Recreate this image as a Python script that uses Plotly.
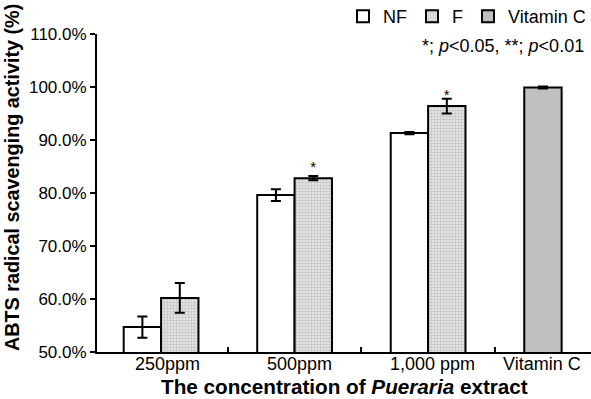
import plotly.graph_objects as go

categories = ["250ppm", "500ppm", "1,000 ppm", "Vitamin C"]
nf_values = [0.547, 0.796, 0.913]
nf_errors = [0.020, 0.011, 0.002]
f_values = [0.602, 0.828, 0.964]
f_errors = [0.028, 0.004, 0.014]
f_significance = ["", "*", "*"]
vc_values = [0.999]
vc_errors = [0.002]
y_ticks = [0.5, 0.6, 0.7, 0.8, 0.9, 1.0, 1.1]

FONT = "Liberation Sans, Arial, sans-serif"
BW = 0.28

fig = go.Figure()
fig.add_trace(go.Bar(
    name="NF", x=categories[:3], y=nf_values,
    offset=-BW, width=BW,
    marker=dict(color="white", line=dict(color="black", width=2)),
    error_y=dict(type="data", array=nf_errors, color="black", thickness=2, width=5),
))
fig.add_trace(go.Bar(
    name="F", x=categories[:3], y=f_values,
    offset=0, width=BW,
    text=f_significance, textposition="outside",
    textfont=dict(family=FONT, size=15, color="black"),
    cliponaxis=False,
    marker=dict(color="white", line=dict(color="black", width=2),
                pattern=dict(shape=".", size=3, solidity=0.5,
                             fgcolor="#9a9a9a", bgcolor="#ececec")),
    error_y=dict(type="data", array=f_errors, color="black", thickness=2, width=5),
))
fig.add_trace(go.Bar(
    name="Vitamin C", x=categories[3:], y=vc_values,
    offset=-BW, width=BW,
    marker=dict(color="#c0c0c0", line=dict(color="black", width=2)),
    error_y=dict(type="data", array=vc_errors, color="black", thickness=2, width=5),
))

label_shift = [6, 5, 4, -20]
annotations = []
for i, lab in enumerate(categories):
    annotations.append(dict(x=i, y=0, xref="x", yref="paper", yanchor="top",
                            xshift=label_shift[i], yshift=0, text=lab, showarrow=False,
                            font=dict(family=FONT, size=18, color="black")))
annotations.append(dict(x=0.5, y=-0.107, xref="paper", yref="paper", yanchor="middle",
                        text="<b>The concentration of <i>Pueraria</i> extract</b>",
                        showarrow=False, font=dict(family=FONT, size=20.7, color="black")))
annotations.append(dict(x=-0.172, y=0.547, xref="paper", yref="paper",
                        xanchor="center", yanchor="middle", textangle=-90,
                        text="<b>ABTS radical scavenging activity (%)</b>",
                        showarrow=False, font=dict(family=FONT, size=19.8, color="black")))
annotations.append(dict(x=0.99, y=0.962, xref="paper", yref="paper", xanchor="right",
                        yanchor="middle",
                        text="*; <i>p</i>&lt;0.05, **; <i>p</i>&lt;0.01",
                        showarrow=False, font=dict(family=FONT, size=18, color="black")))

fig.update_layout(
    width=591, height=399,
    margin=dict(l=97, r=0, t=34, b=47, autoexpand=False),
    paper_bgcolor="white", plot_bgcolor="white",
    font=dict(family=FONT, size=17, color="black"),
    showlegend=True,
    legend=dict(orientation="h", x=1.0, xanchor="right", y=1.055, yanchor="middle",
                font=dict(family=FONT, size=18, color="black"),
                itemwidth=30, bgcolor="rgba(0,0,0,0)", tracegroupgap=0),
    annotations=annotations,
    xaxis=dict(type="category", range=[-0.48, 3.22], showgrid=False,
               showline=True, linecolor="black", linewidth=2,
               ticks="inside", ticklen=5, tickwidth=1.5, tickcolor="black",
               tickson="boundaries", showticklabels=False),
    yaxis=dict(range=[0.5, 1.1], tickvals=y_ticks, tickformat=".1%",
               showgrid=False, zeroline=False,
               showline=True, linecolor="black", linewidth=2,
               ticks="outside", ticklen=5, tickwidth=1.5, tickcolor="black",
               tickfont=dict(family=FONT, size=17, color="black")),
)

fig.write_html("out.html", config={"displayModeBar": False},
               post_script="document.body.style.margin='0';")
